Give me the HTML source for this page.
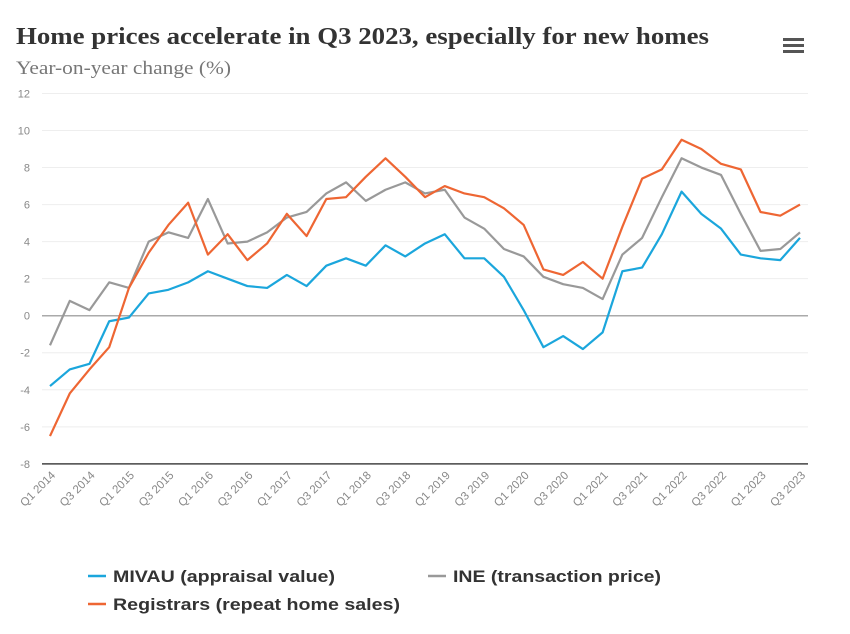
<!DOCTYPE html>
<html><head><meta charset="utf-8"><style>
body{margin:0;background:#fff;width:850px;height:629px;overflow:hidden;font-family:"Liberation Sans",sans-serif}
</style></head><body>
<svg width="850" height="629">
<text x="16" y="44" font-family="Liberation Serif,serif" font-weight="bold" font-size="24" fill="#333" textLength="693" lengthAdjust="spacingAndGlyphs">Home prices accelerate in Q3 2023, especially for new homes</text>
<text x="16" y="74" font-family="Liberation Serif,serif" font-size="19" fill="#777" textLength="215" lengthAdjust="spacingAndGlyphs">Year-on-year change (%)</text>
<g>
<rect x="783" y="38" width="21" height="3" fill="#555"/><rect x="783" y="44" width="21" height="3" fill="#555"/><rect x="783" y="50" width="21" height="3" fill="#555"/></g>
<g id="grid"></g><g id="lines"></g><g id="xl"></g>
<g>
<g><line x1="88" y1="576" x2="106" y2="576" stroke="#1ba6dc" stroke-width="2.5"/><text x="113" y="582" font-size="17" font-weight="bold" fill="#333" textLength="222" lengthAdjust="spacingAndGlyphs">MIVAU (appraisal value)</text></g>
<g><line x1="428" y1="576" x2="446" y2="576" stroke="#999" stroke-width="2.5"/><text x="453" y="582" font-size="17" font-weight="bold" fill="#333" textLength="208" lengthAdjust="spacingAndGlyphs">INE (transaction price)</text></g>
<g><line x1="88" y1="604" x2="106" y2="604" stroke="#ee6633" stroke-width="2.5"/><text x="113" y="610" font-size="17" font-weight="bold" fill="#333" textLength="287" lengthAdjust="spacingAndGlyphs">Registrars (repeat home sales)</text></g>
</g>
</svg>
<script>
const categories=[];for(let y=2014;y<=2023;y++)for(let q=1;q<=4;q++)if(!(y===2023&&q===4))categories.push('Q'+q+' '+y);
const yTicks=[12,10,8,6,4,2,0,-2,-4,-6,-8];
const mivau=[-3.8,-2.9,-2.6,-0.3,-0.1,1.2,1.4,1.8,2.4,2.0,1.6,1.5,2.2,1.6,2.7,3.1,2.7,3.8,3.2,3.9,4.4,3.1,3.1,2.1,0.3,-1.7,-1.1,-1.8,-0.9,2.4,2.6,4.4,6.7,5.5,4.7,3.3,3.1,3.0,4.2];
const ine=[-1.6,0.8,0.3,1.8,1.5,4.0,4.5,4.2,6.3,3.9,4.0,4.5,5.3,5.6,6.6,7.2,6.2,6.8,7.2,6.6,6.8,5.3,4.7,3.6,3.2,2.1,1.7,1.5,0.9,3.3,4.2,6.4,8.5,8.0,7.6,5.5,3.5,3.6,4.5];
const registrars=[-6.5,-4.2,-2.9,-1.7,1.5,3.4,4.9,6.1,3.3,4.4,3.0,3.9,5.5,4.3,6.3,6.4,7.5,8.5,7.5,6.4,7.0,6.6,6.4,5.8,4.9,2.5,2.2,2.9,2.0,4.8,7.4,7.9,9.5,9.0,8.2,7.9,5.6,5.4,6.0];
const NS='http://www.w3.org/2000/svg';
const X=i=>50+i*(750/(categories.length-1));
const Y=v=>315.7-v*18.52;
function mk(t,a,p){const e=document.createElementNS(NS,t);for(const k in a)e.setAttribute(k,a[k]);p.appendChild(e);return e;}
const grid=document.getElementById('grid');
yTicks.forEach(v=>{
 const l=mk('line',{x1:42,x2:808,y1:Y(v),y2:Y(v),stroke:v===0?'#aaa':(v===-8?'#444':'#eee'),'stroke-width':v===0||v===-8?1.5:1},grid);
 
 
 const t=mk('text',{x:30,y:Y(v)+4,'text-anchor':'end','font-size':11,fill:'#888'},grid);t.textContent=v;
 
 
});
const xl=document.getElementById('xl');
categories.forEach((c,i)=>{if(i%2)return;
 const t=mk('text',{x:X(i)+6,y:476,'text-anchor':'end','font-size':11.5,fill:'#888',transform:`rotate(-45 ${X(i)+6} 476)`},xl);t.textContent=c;
 
 
});
const lines=document.getElementById('lines');
[[ine,'#999','ine'],[mivau,'#1ba6dc','mivau'],[registrars,'#ee6633','registrars']].forEach(([d,c,n])=>{
 const p=mk('polyline',{points:d.map((v,i)=>X(i)+','+Y(v)).join(' '),fill:'none',stroke:c,'stroke-width':2.2,'stroke-linejoin':'round'},lines);
 
 
});
</script>
</body></html>
